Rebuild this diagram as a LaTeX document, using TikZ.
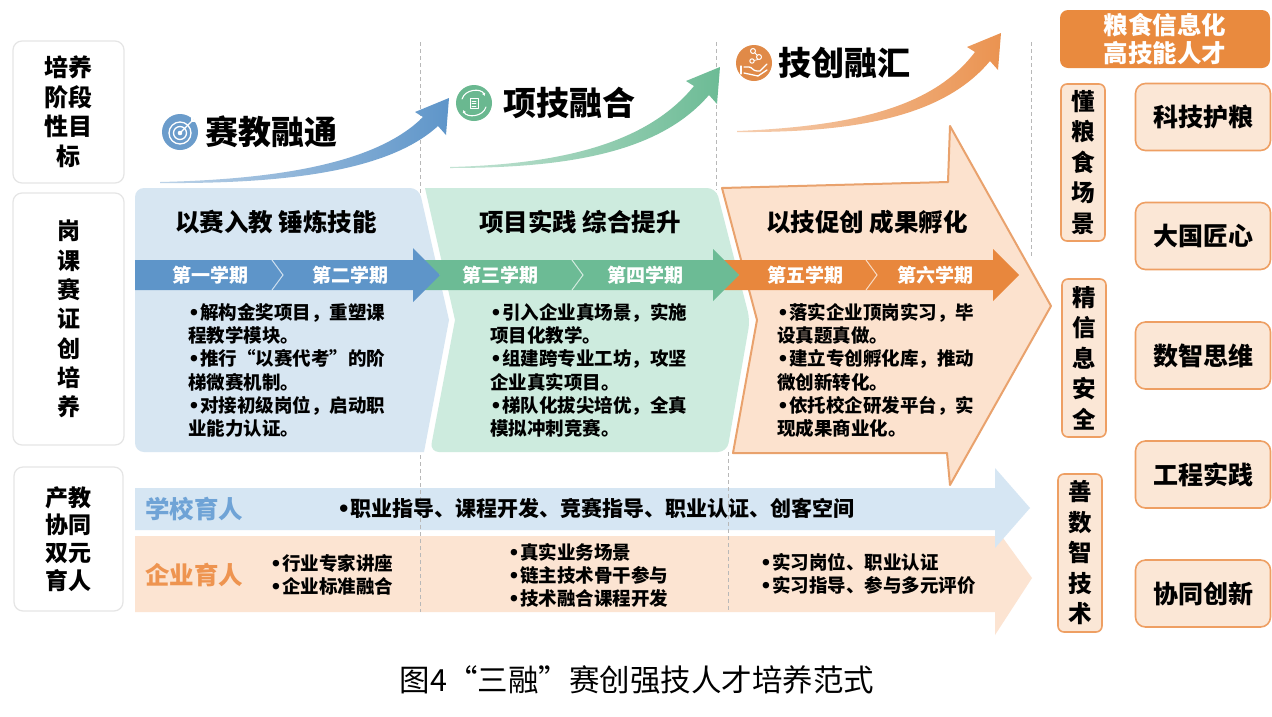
\documentclass[tikz,border=0pt]{standalone}
\usepackage{fontspec}
\setmainfont{Noto Sans CJK SC}
\newfontfamily\bulfont{DejaVu Sans}
\usetikzlibrary{arrows.meta}
\newcommand\myfs[2]{\fontsize{#1}{#2}\selectfont}
\newcommand\bx{{\bulfont\bfseries •}}
\definecolor{bandblue}{HTML}{5E95C9}
\definecolor{bandgreen}{HTML}{6CBB95}
\definecolor{bandorange}{HTML}{E8873D}
\definecolor{regblue}{HTML}{D7E6F2}
\definecolor{reggreen}{HTML}{CDEBDE}
\definecolor{regorange}{HTML}{FCE2CE}
\definecolor{orgline}{HTML}{E9A26D}
\definecolor{peach}{HTML}{FBE7D6}
\definecolor{peachline}{HTML}{EE9F63}
\definecolor{rowblue}{HTML}{D6E6F3}
\definecolor{rowpeach}{HTML}{FCE4D2}
\definecolor{txtblue}{HTML}{6FA3D6}
\definecolor{txtorange}{HTML}{EE9450}
\definecolor{topbox}{HTML}{E98A3E}
\definecolor{iconblue}{HTML}{6B9CCB}
\definecolor{icongreen}{HTML}{6AB890}
\definecolor{iconorange}{HTML}{E08A48}
\tikzset{
 lbox/.style={draw=black!10, line width=1.2pt, fill=white, rounded corners=9pt, font=\bfseries\myfs{24}{29.5}, align=center, minimum width=111pt},
 vbox/.style={draw=peachline, fill=peach, line width=1.6pt, rounded corners=6pt, minimum width=44pt, minimum height=157pt, font=\bfseries\myfs{23.5}{30.5}, align=center},
 gbox/.style={draw=peachline, fill=peach, line width=1.6pt, rounded corners=10pt, minimum width=135pt, minimum height=67pt, font=\bfseries\myfs{25}{28}},
 stagett/.style={font=\bfseries\myfs{33}{38}, anchor=west},
 regtt/.style={font=\bfseries\myfs{24.5}{29}},
 semtxt/.style={font=\bfseries\myfs{19}{22}, text=white},
 bul/.style={font=\bfseries\myfs{18.5}{23.3}, align=left, anchor=north west},
 rowtxt/.style={font=\bfseries\myfs{18.5}{23}, align=left, anchor=west},
 dsh/.style={draw=black!28, line width=0.9pt, dash pattern=on 4pt off 3pt},
 sepline/.style={draw=white, line width=1pt, opacity=0.7},
 icw/.style={draw=white, line width=1.3pt, line cap=round, line join=round},
}
\begin{document}
\begin{tikzpicture}[x=1pt,y=-1pt, every node/.style={inner sep=0pt}]
\useasboundingbox (0,0) rectangle (1272,716);
\fill[white] (0,0) rectangle (1272,716);

% ---------- left column
\node[lbox, minimum height=142pt] (goal) at (68.5,112) {培养\\阶段\\性目\\标};
\node[lbox, minimum height=252pt, font=\bfseries\myfs{23}{29.3}] (course) at (68.5,319) {岗\\课\\赛\\证\\创\\培\\养};
\node[lbox, minimum height=144pt, minimum width=109pt, font=\bfseries\myfs{23}{27.8}] (coop) at (68.5,539) {产教\\协同\\双元\\育人};

% ---------- bottom rows
\fill[rowpeach] (135,536) -- (995,536) -- (995,527) -- (1032,578) -- (995,635) -- (995,612) -- (135,612) -- cycle;
\fill[rowblue] (135,488) -- (995,488) -- (995,468) -- (1030,508) -- (995,548) -- (995,530) -- (135,530) -- cycle;

% ---------- dashed guides
\draw[dsh] (420,42) -- (420,612);
\draw[dsh] (716,42) -- (716,190);
\draw[dsh] (728,452) -- (728,612);
\draw[dsh] (1031,42) -- (1031,258);

% ---------- middle regions
\fill[regblue, rounded corners=9pt] (135,188) -- (419,188) [sharp corners] -- (449,320) -- (424,452) [rounded corners=9pt] -- (135,452) -- cycle;
\fill[reggreen, rounded corners=9pt] (425,188) -- (716,188) -- (750,320) -- (727,452) -- (430,452) [sharp corners] -- (455,320) -- cycle;
\filldraw[fill=regorange, draw=orgline, line width=2pt, line join=round] (722,188) -- (948,182) -- (950,126) -- (1051,306) -- (950,485) -- (947,453) -- (733,453) -- (757,320) -- cycle;

% ---------- semester bands
\fill[bandorange] (713,260) -- (993,260) -- (993,249) -- (1019,275) -- (993,301) -- (993,290) -- (713,290) -- (739,275) -- cycle;
\fill[bandgreen] (413,260) -- (713,260) -- (713,249) -- (739,275) -- (713,301) -- (713,290) -- (413,290) -- (440,275) -- cycle;
\fill[bandblue] (135,260) -- (413,260) -- (413,248) -- (440,275) -- (413,302) -- (413,290) -- (135,290) -- cycle;
\draw[sepline] (272,260) -- (283,275) -- (272,290);
\draw[sepline] (572,260) -- (583,275) -- (572,290);
\draw[sepline] (866,260) -- (877,275) -- (866,290);

\node[semtxt] (s1) at (210,275) {第一学期};
\node[semtxt] (s2) at (350,275) {第二学期};
\node[semtxt] (s3) at (500,275) {第三学期};
\node[semtxt] (s4) at (645,275) {第四学期};
\node[semtxt] (s5) at (805,275) {第五学期};
\node[semtxt] (s6) at (935,275) {第六学期};

\node[regtt] (r1) at (276,222) {以赛入教 锤炼技能};
\node[regtt] (r2) at (580,222) {项目实践 综合提升};
\node[regtt] (r3) at (867,222) {以技促创 成果孵化};

\node[bul] (b1) at (188,303) {\bx 解构金奖项目，重塑课\\程教学模块。\\\bx 推行“以赛代考”的阶\\梯微赛机制。\\\bx 对接初级岗位，启动职\\业能力认证。};
\node[bul] (b2) at (490,303) {\bx 引入企业真场景，实施\\项目化教学。\\\bx 组建跨专业工坊，攻坚\\企业真实项目。\\\bx 梯队化拔尖培优，全真\\模拟冲刺竞赛。};
\node[bul] (b3) at (777,303) {\bx 落实企业顶岗实习，毕\\设真题真做。\\\bx 建立专创孵化库，推动\\微创新转化。\\\bx 依托校企研发平台，实\\现成果商业化。};

% ---------- bottom row texts
\node[font=\bfseries\myfs{24.5}{28}, text=txtblue] (school) at (194,509) {学校育人};
\node[font=\bfseries\myfs{24.5}{28}, text=txtorange] (firm) at (194,575) {企业育人};
\node[rowtxt, font=\bfseries\myfs{21}{24}] (sr) at (337,508) {\bx 职业指导、课程开发、竞赛指导、职业认证、创客空间};
\node[rowtxt] (f1) at (270,575) {\bx 行业专家讲座\\\bx 企业标准融合};
\node[rowtxt] (f2) at (508,575) {\bx 真实业务场景\\\bx 链主技术骨干参与\\\bx 技术融合课程开发};
\node[rowtxt] (f3) at (760,574) {\bx 实习岗位、职业认证\\\bx 实习指导、参与多元评价};

% ---------- top curved arrows
\shade[left color=iconblue!45, right color=bandblue] (160,182) .. controls (290,179) and (380,160) .. (423,117) -- (415,112) -- (449,98) -- (446,135) -- (438,126) .. controls (390,170) and (290,184) .. (160,183) -- cycle;
\shade[left color=bandgreen!40, right color=bandgreen] (450,167) .. controls (570,164) and (650,140) .. (694,86) -- (686,81) -- (720,67) -- (717,104) -- (709,95) .. controls (660,152) and (570,168) .. (450,168) -- cycle;
\shade[left color=bandorange!40, right color=bandorange!90] (737,131) .. controls (860,126) and (935,105) .. (975,52) -- (967,47) -- (1001,33) -- (998,70) -- (990,61) .. controls (945,115) and (860,133) .. (737,132) -- cycle;

% icons
\fill[iconblue] (180,132) circle (18pt);
\draw[icw] (180,133) circle (11pt);
\draw[icw] (180,133) circle (6.5pt);
\fill[white] (180,133) circle (2.3pt);
\draw[icw] (180,133) -- (192,121);
\draw[icw] (192,121) -- (196,121);
\draw[icw] (192,121) -- (192,117);

\fill[icongreen] (474,103) circle (18pt);
\draw[icw, line width=1.1pt, -{Latex[length=3pt,width=3.5pt]}] (462,99) .. controls (465,89) and (481,88) .. (485,96);
\draw[icw, line width=1.1pt, -{Latex[length=3pt,width=3.5pt]}] (486,107) .. controls (483,117) and (467,118) .. (463,110);
\draw[icw, line width=1pt] (470,98) rectangle (478,108);
\draw[icw, line width=0.8pt] (472,101) -- (476,101) (472,103.5) -- (476,103.5) (472,106) -- (476,106);

\fill[iconorange] (754,63) circle (18pt);
\draw[icw] (741,66) -- (741,74);
\draw[icw] (744,67) -- (749,67) .. controls (752,67) and (753,71) .. (757,71) -- (760,71) -- (767,64);
\draw[icw] (744,73) -- (758,76) -- (767,70);
\draw[icw, line width=1pt] (753,51) circle (2.5pt);
\draw[icw, line width=1pt] (759,57) circle (2.5pt);
\draw[icw, line width=1pt] (752,61) circle (2.2pt);
\draw[icw, line width=0.8pt] (755,53) -- (757,55) (758,59.5) -- (754,60.5);

\node[stagett] (st1) at (205,132) {赛教融通};
\node[stagett] (st2) at (503,103) {项技融合};
\node[stagett] (st3) at (778,63) {技创融汇};

% ---------- right column
\node[fill=topbox, rounded corners=8pt, minimum width=210pt, minimum height=58pt, text=white, font=\bfseries\myfs{24.5}{28}, align=center] (target) at (1165,39) {粮食信息化\\高技能人才};
\node[vbox] (v1) at (1083,162.5) {懂\\粮\\食\\场\\景};
\node[vbox, minimum height=158pt] (v2) at (1084,358) {精\\信\\息\\安\\全};
\node[vbox, minimum height=158pt] (v3) at (1080,553) {善\\数\\智\\技\\术};
\node[gbox] (q1) at (1203,117) {科技护粮};
\node[gbox] (q2) at (1203,236) {大国匠心};
\node[gbox] (q3) at (1203,355.5) {数智思维};
\node[gbox] (q4) at (1203,474.5) {工程实践};
\node[gbox] (q5) at (1203,593.5) {协同创新};

% ---------- caption
\node[font=\myfs{30.5}{34}] (cap) at (637,680) {图4“三融”赛创强技人才培养范式};
\end{tikzpicture}
\end{document}
